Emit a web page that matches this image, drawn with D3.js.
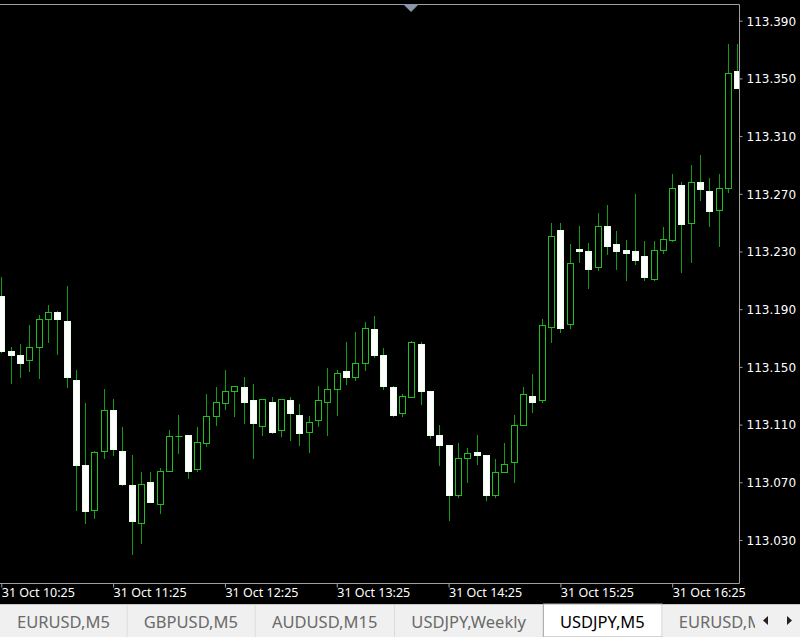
<!DOCTYPE html>
<html>
<head>
<meta charset="utf-8">
<script src="https://cdn.jsdelivr.net/npm/d3@7"></script>
<style>
  html, body { margin: 0; padding: 0; background: #000; overflow: hidden; }
  svg { display: block; }
</style>
</head>
<body>
<svg id="chart" width="800" height="637"></svg>
<script>
// USDJPY, M5 -- 31 Oct, 10:25 .. 17:00 (one bar every 5 minutes)
const startTime = '2018-10-31T10:25:00';

const opens = [
  113.199, 113.161, 113.158, 113.155, 113.164, 113.183, 113.188, 113.182, 113.141, 113.082,
  113.051, 113.092, 113.120, 113.092, 113.068, 113.042, 113.070, 113.055, 113.078, 113.102,
  113.103, 113.079, 113.097, 113.116, 113.125, 113.133, 113.136, 113.127, 113.109, 113.126,
  113.106, 113.127, 113.117, 113.105, 113.113, 113.126, 113.135, 113.147, 113.143, 113.153,
  113.176, 113.158, 113.136, 113.118, 113.129, 113.166, 113.133, 113.103, 113.096, 113.061,
  113.087, 113.091, 113.089, 113.061, 113.077, 113.084, 113.110, 113.130, 113.127, 113.178,
  113.245, 113.180, 113.232, 113.230, 113.219, 113.248, 113.235, 113.231, 113.230, 113.227,
  113.211, 113.231, 113.238, 113.276, 113.250, 113.278, 113.272, 113.259, 113.274, 113.355
];
const highs = [
  113.212, 113.164, 113.166, 113.179, 113.186, 113.193, 113.189, 113.206, 113.148, 113.125,
  113.092, 113.135, 113.128, 113.108, 113.089, 113.077, 113.077, 113.080, 113.106, 113.117,
  113.103, 113.108, 113.131, 113.136, 113.148, 113.137, 113.143, 113.138, 113.128, 113.129,
  113.128, 113.129, 113.124, 113.116, 113.137, 113.149, 113.148, 113.167, 113.174, 113.181,
  113.185, 113.163, 113.137, 113.131, 113.168, 113.167, 113.133, 113.110, 113.096, 113.097,
  113.094, 113.103, 113.089, 113.086, 113.097, 113.117, 113.136, 113.145, 113.183, 113.250,
  113.250, 113.235, 113.248, 113.236, 113.257, 113.262, 113.244, 113.238, 113.270, 113.237,
  113.237, 113.247, 113.284, 113.278, 113.290, 113.297, 113.281, 113.284, 113.374, 113.374
];
const lows = [
  113.160, 113.139, 113.143, 113.147, 113.142, 113.167, 113.159, 113.136, 113.051, 113.042,
  113.045, 113.087, 113.089, 113.068, 113.020, 113.028, 113.056, 113.049, 113.078, 113.090,
  113.073, 113.078, 113.095, 113.110, 113.121, 113.116, 113.111, 113.087, 113.103, 113.104,
  113.102, 113.099, 113.096, 113.091, 113.109, 113.103, 113.117, 113.138, 113.141, 113.148,
  113.157, 113.135, 113.116, 113.116, 113.129, 113.124, 113.101, 113.082, 113.044, 113.060,
  113.070, 113.083, 113.058, 113.060, 113.077, 113.070, 113.110, 113.119, 113.126, 113.167,
  113.174, 113.177, 113.223, 113.205, 113.217, 113.228, 113.218, 113.210, 113.221, 113.210,
  113.210, 113.229, 113.237, 113.216, 113.223, 113.266, 113.248, 113.234, 113.271, 113.343
];
const closes = [
  113.161, 113.158, 113.153, 113.164, 113.183, 113.188, 113.183, 113.143, 113.082, 113.050,
  113.091, 113.120, 113.093, 113.069, 113.043, 113.069, 113.056, 113.078, 113.102, 113.102,
  113.078, 113.098, 113.116, 113.126, 113.133, 113.137, 113.126, 113.111, 113.128, 113.105,
  113.128, 113.118, 113.104, 113.112, 113.127, 113.135, 113.146, 113.143, 113.153, 113.177,
  113.158, 113.137, 113.117, 113.130, 113.167, 113.133, 113.103, 113.096, 113.061, 113.087,
  113.090, 113.089, 113.061, 113.077, 113.083, 113.110, 113.131, 113.126, 113.179, 113.241,
  113.177, 113.222, 113.230, 113.218, 113.248, 113.234, 113.230, 113.229, 113.224, 113.212,
  113.231, 113.239, 113.274, 113.249, 113.278, 113.273, 113.258, 113.274, 113.354, 113.343
];

const priceTicks = [113.030, 113.070, 113.110, 113.150, 113.190, 113.230, 113.270, 113.310, 113.350, 113.390];
const timeTicks = ['10:25', '11:25', '12:25', '13:25', '14:25', '15:25', '16:25'];
const tabNames = ['EURUSD,M5', 'GBPUSD,M5', 'AUDUSD,M15', 'USDJPY,Weekly', 'USDJPY,M5', 'EURUSD,M5'];
const activeTab = 'USDJPY,M5';

// layout
const W = 800, H = 637;
const plot = { left: 0, right: 739.5, top: 4.5, bottom: 583.5 };
const WICK = '#139c13', EDGE = '#1fc01f', FRAME = '#a0a0a0';

const t0 = new Date(startTime);
const bars = opens.map((o, i) => ({
  t: new Date(t0.getTime() + i * 5 * 60000),
  o, h: highs[i], l: lows[i], c: closes[i]
}));

const x = d3.scaleTime()
  .domain([bars[0].t, bars[bars.length - 1].t])
  .range([1.3, 737.4]);
const y = d3.scaleLinear()
  .domain([113.030, 113.390])
  .range([540, 20.7]);

const svg = d3.select('#chart');
svg.append('rect').attr('width', W).attr('height', H).attr('fill', '#000');

svg.append('defs').append('clipPath').attr('id', 'plotClip')
  .append('rect')
  .attr('x', plot.left).attr('y', plot.top)
  .attr('width', plot.right - plot.left).attr('height', plot.bottom - plot.top);

// candles
const snap = v => Math.round(v) + 0.5;
const gBars = svg.append('g').attr('clip-path', 'url(#plotClip)');
const candle = gBars.selectAll('g.bar').data(bars).join('g').attr('class', 'bar');

candle.append('line')
  .attr('x1', d => snap(x(d.t))).attr('x2', d => snap(x(d.t)))
  .attr('y1', d => Math.round(y(d.h))).attr('y2', d => Math.round(y(d.l)) + 1)
  .attr('stroke', WICK).attr('stroke-width', 1);

candle.filter(d => d.c !== d.o).append('rect')
  .attr('x', d => snap(x(d.t)) - 3)
  .attr('y', d => snap(y(Math.max(d.o, d.c))))
  .attr('width', 6)
  .attr('height', d => Math.max(1, Math.round(y(Math.min(d.o, d.c))) - Math.round(y(Math.max(d.o, d.c)))))
  .attr('fill', d => d.c > d.o ? '#000' : '#fff')
  .attr('stroke', d => d.c > d.o ? EDGE : '#eaffea')
  .attr('stroke-width', 1);

candle.filter(d => d.c === d.o).append('line')
  .attr('x1', d => snap(x(d.t)) - 3).attr('x2', d => snap(x(d.t)) + 4)
  .attr('y1', d => snap(y(d.c))).attr('y2', d => snap(y(d.c)))
  .attr('stroke', EDGE);

// frame
svg.append('path')
  .attr('d', `M0,${plot.top}H${plot.right}V${plot.bottom}H0`)
  .attr('fill', 'none').attr('stroke', FRAME).attr('stroke-width', 1);

// chart shift marker
svg.append('path')
  .attr('d', 'M403,4 L419,4 L411,12 Z')
  .attr('fill', '#8c96a8');

// price axis
const yAxis = svg.append('g')
  .attr('transform', `translate(${plot.right},0)`)
  .call(d3.axisRight(y).tickValues(priceTicks).tickSize(3).tickFormat(d3.format('.3f')));
yAxis.select('.domain').remove();
yAxis.selectAll('line').attr('stroke', FRAME);
yAxis.selectAll('text')
  .attr('x', 7).attr('dy', '0.36em')
  .attr('fill', '#fff')
  .style('font-family', '"DejaVu Sans", sans-serif')
  .style('font-size', '12px');

// time axis
const parseTick = d3.timeParse('%Y-%m-%d %H:%M');
const timeTickDates = timeTicks.map(s => parseTick('2018-10-31 ' + s));
const xAxis = svg.append('g')
  .attr('transform', `translate(0,${plot.bottom})`)
  .call(d3.axisBottom(x).tickValues(timeTickDates).tickSize(4).tickFormat(d3.timeFormat('%d %b %H:%M')));
xAxis.select('.domain').remove();
xAxis.selectAll('line').attr('stroke', FRAME);
xAxis.selectAll('text')
  .attr('text-anchor', 'start').attr('x', 0).attr('y', 5).attr('dy', '0.71em')
  .attr('fill', '#fff')
  .style('font-family', '"Noto Sans", sans-serif')
  .style('font-size', '12.5px');

// tab strip
const tabTop = 604;
const gTabs = svg.append('g');
gTabs.append('rect').attr('x', 0).attr('y', tabTop).attr('width', W).attr('height', H - tabTop).attr('fill', '#f0f0f0');
gTabs.append('line').attr('x1', 0).attr('x2', W).attr('y1', tabTop + 0.5).attr('y2', tabTop + 0.5).attr('stroke', '#c8c8c8');

let tx = 0;
tabNames.forEach(name => {
  const active = name === activeTab;
  const g = gTabs.append('g');
  const bg = g.append('rect').attr('y', active ? tabTop : tabTop + 1).attr('height', H - tabTop);
  const label = g.append('text')
    .attr('y', 628)
    .attr('fill', active ? '#000' : '#6a6a6a')
    .style('font-family', '"Noto Sans", sans-serif')
    .style('font-size', '16.5px')
    .text(name);
  const tw = label.node().getComputedTextLength();
  const w = tw + 34;
  label.attr('x', tx + 17);
  bg.attr('x', tx + 0.5).attr('width', w)
    .attr('fill', active ? '#fff' : '#f0f0f0')
    .attr('stroke', active ? '#a8a8a8' : 'none');
  if (!active) {
    g.append('line')
      .attr('x1', tx + w + 0.5).attr('x2', tx + w + 0.5)
      .attr('y1', tabTop + 1).attr('y2', H)
      .attr('stroke', '#c8c8c8');
  }
  tx += w;
});

// scroll buttons
gTabs.append('rect').attr('x', 755).attr('y', tabTop + 1).attr('width', W - 755).attr('height', H - tabTop).attr('fill', '#f0f0f0');
gTabs.append('path').attr('d', 'M768,616 L763,620.5 L768,625 Z').attr('fill', '#222');
gTabs.append('path').attr('d', 'M787,616 L792,620.5 L787,625 Z').attr('fill', '#222');
</script>
</body>
</html>
